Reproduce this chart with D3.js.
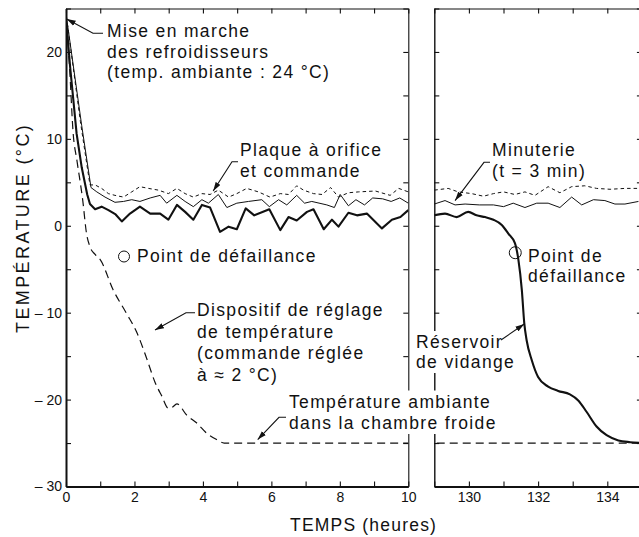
<!DOCTYPE html>
<html>
<head>
<meta charset="utf-8">
<script src="https://cdn.jsdelivr.net/npm/d3@7"></script>
<style>
  html, body { margin: 0; padding: 0; background: #fff; }
  svg { display: block; }
  text { font-family: "Liberation Sans", Arial, Helvetica, sans-serif; fill: #111; }
</style>
</head>
<body>
<svg id="chart" width="639" height="537"></svg>
<script>
// ---- Data: [hours since cooler start-up, temperature °C] ----
// Réservoir de vidange (thick solid)
const reservoirEarly = [[0,24],[0.12,18.3],[0.31,10.6],[0.46,6.7],[0.62,3.6],[0.7,2.5],[0.85,1.9],[1.04,2.2],[1.24,1.8],[1.45,1.3],[1.63,0.5],[1.87,1.4],[2.16,2.2],[2.46,1.4],[2.75,1.4],[2.99,0.7],[3.24,2.4],[3.48,1.6],[3.72,0.7],[3.97,2.4],[4.21,2.1],[4.5,-0.7],[4.75,-0.1],[4.99,-0.4],[5.25,2.0],[5.5,1.2],[5.94,1.9],[6.26,-0.5],[6.5,1.0],[6.74,0.6],[7.04,1.6],[7.23,1.9],[7.53,-0.4],[7.77,0.7],[7.96,-0.1],[8.25,1.5],[8.5,1.2],[8.79,1.4],[9.23,-0.3],[9.52,0.7],[9.77,1.0],[10,1.8]];
const reservoirLate = [[129,1.2],[129.31,1.4],[129.65,1.0],[129.98,1.6],[130.22,1.2],[130.47,1.0],[130.71,0.7],[130.95,0.1],[131.14,-0.9],[131.33,-2.0],[131.43,-3.9],[131.53,-7.4],[131.6,-11.2],[131.67,-13.2],[131.82,-15.5],[132.0,-17.4],[132.29,-18.5],[132.58,-19.0],[132.92,-19.4],[133.16,-20.1],[133.4,-21.4],[133.69,-23.1],[133.98,-24.1],[134.32,-24.7],[134.66,-24.9],[135,-25]];
// Minuterie, t = 3 min (thin solid)
const minuterieEarly = [[0,24],[0.05,23],[0.46,11.5],[0.73,4.4],[0.9,3.9],[1.14,3.3],[1.43,2.7],[1.68,2.8],[1.92,3.0],[2.16,2.8],[2.46,3.2],[2.75,3.5],[2.94,2.6],[3.24,3.5],[3.48,2.8],[3.72,2.2],[3.97,3.0],[4.16,2.6],[4.45,3.6],[4.7,2.1],[4.99,2.6],[5.33,2.8],[5.72,3.0],[5.94,2.2],[6.21,3.0],[6.45,2.4],[6.74,3.5],[6.97,2.6],[7.18,2.8],[7.62,2.4],[7.84,2.1],[8.01,3.6],[8.25,2.3],[8.47,3.0],[8.72,2.4],[8.96,3.2],[9.25,3.1],[9.5,2.8],[9.75,3.2],[10,2.6]];
const minuterieLate = [[129,2.5],[129.31,2.9],[129.6,2.4],[129.89,2.5],[130.3,2.4],[130.71,2.4],[131.0,2.2],[131.28,2.6],[131.62,2.1],[131.96,2.6],[132.29,2.6],[132.63,2.1],[132.97,3.3],[133.26,2.4],[133.6,3.0],[133.93,2.9],[134.22,2.5],[134.51,2.5],[134.9,2.8]];
// Plaque à orifice et commande (short dashes)
const plaqueEarly = [[0,24],[0.05,23],[0.42,12],[0.7,4.7],[0.85,4.7],[1.04,4.3],[1.24,3.7],[1.43,3.5],[1.68,3.3],[1.92,3.9],[2.16,4.5],[2.41,4.3],[2.7,4.1],[2.99,3.7],[3.24,4.3],[3.48,3.7],[3.72,3.3],[3.97,3.7],[4.21,3.6],[4.45,4.1],[4.75,3.3],[4.99,3.7],[5.28,4.3],[5.62,3.9],[5.96,3.3],[6.26,3.7],[6.5,3.6],[6.74,4.6],[6.94,4.1],[7.23,3.7],[7.48,3.6],[7.73,4.4],[7.96,3.3],[8.25,3.8],[8.55,3.9],[9.04,4.0],[9.47,3.5],[9.72,4.3],[10,3.9]];
const plaqueLate = [[129,4.1],[129.4,4.3],[129.69,3.9],[130.08,3.7],[130.42,3.4],[130.71,3.7],[131.0,3.9],[131.33,3.6],[131.62,3.9],[131.91,3.5],[132.29,4.5],[132.63,3.8],[132.97,4.5],[133.35,4.6],[133.69,4.3],[134.08,4.2],[134.51,4.3],[134.9,4.3]];
// Température ambiante dans la chambre froide (long dashes)
const ambianteEarly = [[0,24],[0.1,18.5],[0.21,10.6],[0.32,7.5],[0.49,2.9],[0.6,-0.9],[0.7,-2.4],[0.85,-3.3],[1.0,-3.9],[1.38,-7.4],[1.77,-10.1],[2.06,-12.2],[2.36,-15.3],[2.6,-18.0],[2.8,-19.6],[2.99,-21.0],[3.1,-20.9],[3.24,-20.5],[3.53,-21.8],[3.82,-22.7],[4.12,-23.9],[4.4,-24.6],[4.62,-25],[10,-25]];
const ambianteLate = [[129.07,-25],[135,-25]];
// Failure point on the drain-tank curve
const failurePoint = [131.34, -3.1];

// ---- Axes ----
const hourTicksEarly = [0,1,2,3,4,5,6,7,8,9,10];
const hourLabelsEarly = [0,2,4,6,8,10];
const hourTicksLate = [129,130,131,132,133,134,135];
const hourLabelsLate = [130,132,134];
const tempTicks = [-30,-25,-20,-15,-10,-5,0,5,10,15,20,25];
const tempLabels = [-30,-20,-10,0,10,20];

// ---- Annotation texts ----
const noteStart = ["Mise en marche", "des refroidisseurs", "(temp. ambiante : 24 °C)"];
const notePlaque = ["Plaque à orifice", "et commande"];
const noteFailure = ["Point de défaillance"];
const noteDevice = ["Dispositif de réglage", "de température", "(commande réglée", "à ≈ 2 °C)"];
const noteAmbient = ["Température ambiante", "dans la chambre froide"];
const noteTimer = ["Minuterie", "(t = 3 min)"];
const noteFailureLate = ["Point de", "défaillance"];
const noteReservoir = ["Réservoir", "de vidange"];
const yTitle = "TEMPÉRATURE (°C)";
const xTitle = "TEMPS (heures)";

const svg = d3.select("#chart");
const ink = "#111";

const y = d3.scaleLinear().domain([-30, 25]).range([486.5, 8.5]);
const xEarly = d3.scaleLinear().domain([0, 10]).range([66, 408.3]);
const xLate = d3.scaleLinear().domain([129, 135]).range([434.3, 641.9]);

function tempFormat(d) {
  return tempLabels.includes(d) ? (d < 0 ? "\u2013 " + Math.abs(d) : String(d)) : "";
}

function drawFrame(x, ticks, labels, showTempLabels, name) {
  const g = svg.append("g").attr("class", "frame " + name);
  const [x0, x1] = x.range();
  const [yb, yt] = y.range();
  const fmtX = d => labels.includes(d) ? String(d) : "";

  const bottom = g.append("g").attr("transform", `translate(0,${yb})`)
    .call(d3.axisBottom(x).tickValues(ticks).tickSizeInner(-5).tickSizeOuter(0).tickPadding(6).tickFormat(fmtX));
  const top = g.append("g").attr("transform", `translate(0,${yt})`)
    .call(d3.axisTop(x).tickValues(ticks).tickSizeInner(-5).tickSizeOuter(0).tickFormat(""));
  const left = g.append("g").attr("transform", `translate(${x0},0)`)
    .call(d3.axisLeft(y).tickValues(tempTicks).tickSizeInner(-5).tickSizeOuter(0).tickPadding(4)
      .tickFormat(showTempLabels ? tempFormat : ""));
  const right = g.append("g").attr("transform", `translate(${x1},0)`)
    .call(d3.axisRight(y).tickValues(tempTicks).tickSizeInner(-5).tickSizeOuter(0).tickFormat(""));

  g.selectAll("text").attr("font-size", 14).attr("font-family", "Liberation Sans, Arial, sans-serif").attr("fill", ink);
  g.selectAll("line").attr("stroke", ink).attr("stroke-width", 1.1);
  g.selectAll(".domain").attr("stroke", ink);
  bottom.select(".domain").attr("stroke-width", 1.9);
  left.select(".domain").attr("stroke-width", showTempLabels ? 2 : 1.4);
  top.select(".domain").attr("stroke-width", 1.1);
  right.select(".domain").attr("stroke-width", 1.1);
}

drawFrame(xEarly, hourTicksEarly, hourLabelsEarly, true, "early");
drawFrame(xLate, hourTicksLate, hourLabelsLate, false, "late");

// ---- Curves ----
const defs = svg.append("defs");
defs.append("clipPath").attr("id", "clipEarly").append("rect")
  .attr("x", xEarly.range()[0]).attr("y", y.range()[1])
  .attr("width", xEarly.range()[1] - xEarly.range()[0]).attr("height", y.range()[0] - y.range()[1]);
defs.append("clipPath").attr("id", "clipLate").append("rect")
  .attr("x", xLate.range()[0]).attr("y", y.range()[1])
  .attr("width", xLate.range()[1] - xLate.range()[0]).attr("height", y.range()[0] - y.range()[1]);

const styles = {
  reservoir: { width: 2.1, dash: null },
  minuterie: { width: 1.0, dash: null },
  plaque: { width: 1.0, dash: "3.5,3" },
  ambiante: { width: 1.2, dash: "8,5" }
};

function drawCurve(data, x, style, clip, curve) {
  const line = d3.line().x(d => x(d[0])).y(d => y(d[1])).curve(curve || d3.curveLinear);
  svg.append("path")
    .datum(data)
    .attr("clip-path", `url(#${clip})`)
    .attr("d", line)
    .attr("fill", "none")
    .attr("stroke", ink)
    .attr("stroke-width", style.width)
    .attr("stroke-linejoin", "round")
    .attr("stroke-dasharray", style.dash);
}

drawCurve(ambianteEarly, xEarly, styles.ambiante, "clipEarly", d3.curveMonotoneX);
drawCurve(plaqueEarly, xEarly, styles.plaque, "clipEarly");
drawCurve(minuterieEarly, xEarly, styles.minuterie, "clipEarly");
drawCurve(reservoirEarly, xEarly, styles.reservoir, "clipEarly");

drawCurve(ambianteLate, xLate, styles.ambiante, "clipLate");
drawCurve(plaqueLate, xLate, styles.plaque, "clipLate");
drawCurve(minuterieLate, xLate, styles.minuterie, "clipLate");
drawCurve(reservoirLate, xLate, styles.reservoir, "clipLate", d3.curveMonotoneX);

// ---- Labels ----
const labelSize = 17.5;
const labelSpacing = 1.35;

function note(lines, x, baseline, lineGap, knockout) {
  const g = svg.append("g");
  const t = g.append("text")
    .attr("font-size", labelSize)
    .attr("letter-spacing", labelSpacing);
  lines.forEach((ln, i) => {
    t.append("tspan").attr("x", x).attr("y", baseline + i * lineGap).text(ln);
  });
  if (knockout) {
    const b = t.node().getBBox();
    g.insert("rect", "text")
      .attr("x", b.x - 3).attr("y", b.y - 1)
      .attr("width", b.width + 6).attr("height", b.height + 2)
      .attr("fill", "#fff");
  }
  return g;
}

note(noteStart, 107, 37, 20.6);
note(notePlaque, 240, 156, 21);
note(noteFailure, 137, 262, 21);
note(noteDevice, 197, 316, 21.7);
note(noteAmbient, 289, 407.5, 21.5, true);
note(noteTimer, 492, 156, 20.5);
note(noteFailureLate, 528, 262, 20);
note(noteReservoir, 416, 348, 20, true);

// failure markers: legend symbol and the point on the drain-tank curve
svg.append("circle").attr("cx", 124).attr("cy", 256.5).attr("r", 5.5)
  .attr("fill", "none").attr("stroke", ink).attr("stroke-width", 1);
svg.append("circle").attr("cx", xLate(failurePoint[0])).attr("cy", y(failurePoint[1])).attr("r", 6)
  .attr("fill", "none").attr("stroke", ink).attr("stroke-width", 1);

// ---- Leader arrows (tail in page units, tip on the data) ----
defs.append("marker")
  .attr("id", "head").attr("viewBox", "0 -3 9 6")
  .attr("refX", 9).attr("refY", 0)
  .attr("markerWidth", 9).attr("markerHeight", 6)
  .attr("markerUnits", "userSpaceOnUse").attr("orient", "auto")
  .append("path").attr("d", "M0,-2.8L9,0L0,2.8Z").attr("fill", ink);

function leader(tail, elbow, tip) {
  const p = d3.path();
  p.moveTo(tail[0], tail[1]);
  p.lineTo(elbow[0], elbow[1]);
  p.lineTo(tip[0], tip[1]);
  svg.append("path").attr("d", p.toString())
    .attr("fill", "none").attr("stroke", ink).attr("stroke-width", 1.1)
    .attr("marker-end", "url(#head)");
}

leader([103, 33.3], [93, 33.3], [xEarly(0.02), y(23.8)]);
leader([238, 161.7], [232, 161.7], [xEarly(4.3), y(4.0)]);
leader([195, 312.7], [186, 312.7], [xEarly(2.6), y(-12)]);
leader([286, 417.3], [279, 417.3], [xEarly(5.6), y(-24.6)]);
leader([490, 162.3], [484, 162.3], [xLate(129.6), y(2.9)]);
leader([501, 340], [501, 340], [xLate(131.6), y(-11.3)]);

// ---- Axis titles ----
svg.append("text")
  .attr("transform", "translate(28.5,333) rotate(-90)")
  .attr("font-size", 18)
  .attr("letter-spacing", 2.4)
  .text(yTitle);

svg.append("text")
  .attr("x", 290).attr("y", 531)
  .attr("font-size", labelSize)
  .attr("letter-spacing", 1.2)
  .text(xTitle);
</script>
</body>
</html>
